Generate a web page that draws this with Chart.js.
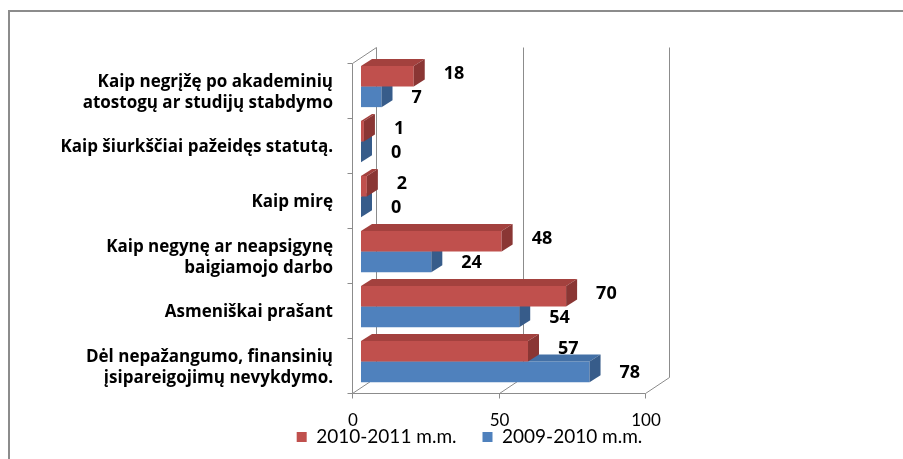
<!DOCTYPE html>
<html><head><meta charset="utf-8">
<script src="https://cdn.jsdelivr.net/npm/chart.js@4/dist/chart.umd.min.js"></script>
<style>
html,body{margin:0;padding:0;background:#fff;}
#wrap{position:relative;width:903px;height:459px;overflow:hidden;background:#fff;}
#frame{position:absolute;left:8px;top:10px;width:1000px;height:1000px;border:2px solid #8c8c8c;box-sizing:border-box;}
#c{position:absolute;left:0;top:0;}
</style></head><body>
<div id="wrap"><div id="frame"></div><canvas id="c" width="903" height="459"></canvas></div>
<script>
const categories = [
  ['Kaip negrįžę po akademinių', 'atostogų ar studijų stabdymo'],
  'Kaip šiurkščiai pažeidęs statutą.',
  'Kaip mirę',
  ['Kaip negynę ar neapsigynę', 'baigiamojo darbo'],
  'Asmeniškai prašant',
  ['Dėl nepažangumo, finansinių', 'įsipareigojimų nevykdymo.']
];
const values2010 = [18, 1, 2, 48, 70, 57];
const values2009 = [7, 0, 0, 24, 54, 78];
const seriesNames = ['2010-2011 m.m.', '2009-2010 m.m.'];
const xTicks = [0, 50, 100];

const frontColors = ['#C0504D', '#4F81BD'];
const topColors = ['#A3413E', '#4370A6'];
const sideColors = ['#8A3634', '#375C8A'];

const BAR_DX = 11, BAR_DY = -7;
const FRONT = {dx: -9, dy: 4};
const BACK = {dx: 15, dy: -12};
const PAD_LEFT = 50;
const PAD_RIGHT = 14;
const PLOT_LEFT = 361;
const PLOT_RIGHT = 654;

const frame3d = {
  id: 'frame3d',
  beforeDatasetsDraw(chart) {
    const {ctx, chartArea: a, scales: {x, y}} = chart;
    ctx.save();
    ctx.strokeStyle = '#8c8c8c';
    ctx.lineWidth = 1;
    const line = (x1, y1, x2, y2) => { ctx.beginPath(); ctx.moveTo(x1, y1); ctx.lineTo(x2, y2); ctx.stroke(); };
    const x0 = Math.round(x.getPixelForValue(xTicks[0])) + 0.5;
    const xN = Math.round(x.getPixelForValue(xTicks[xTicks.length - 1])) + 0.5;
    const bot = Math.round(a.bottom) + 0.5;
    const top = Math.round(a.top) + 0.5;
    xTicks.forEach(v => {
      const px = Math.round(x.getPixelForValue(v)) + 0.5;
      line(px + BACK.dx, top + BACK.dy, px + BACK.dx, bot + BACK.dy);
      line(px + FRONT.dx, bot + FRONT.dy, px + BACK.dx, bot + BACK.dy);
      line(px + FRONT.dx, bot + FRONT.dy, px + FRONT.dx, bot + FRONT.dy + 5);
    });
    line(x0 + FRONT.dx, bot + FRONT.dy, xN + FRONT.dx, bot + FRONT.dy);
    line(x0 + FRONT.dx, top + FRONT.dy, x0 + FRONT.dx, bot + FRONT.dy);
    line(x0 + FRONT.dx, top + FRONT.dy, x0 + BACK.dx, top + BACK.dy);
    for (let k = 0; k <= categories.length; k++) {
      const yy = Math.round(y.getPixelForValue(k - 0.5)) + 0.5 + FRONT.dy;
      line(x0 + FRONT.dx - 5, yy, x0 + FRONT.dx, yy);
    }
    ctx.restore();
  }
};

const bars3d = {
  id: 'bars3d',
  afterDatasetDraw(chart, args) {
    const ctx = chart.ctx;
    const i = args.index;
    ctx.save();
    args.meta.data.forEach(bar => {
      const {x, y, base, height} = bar.getProps(['x', 'y', 'base', 'height'], true);
      const t = y - height / 2, b = y + height / 2;
      ctx.fillStyle = topColors[i];
      ctx.beginPath();
      ctx.moveTo(base, t); ctx.lineTo(x, t); ctx.lineTo(x + BAR_DX, t + BAR_DY); ctx.lineTo(base + BAR_DX, t + BAR_DY);
      ctx.closePath(); ctx.fill();
      ctx.fillStyle = sideColors[i];
      ctx.beginPath();
      ctx.moveTo(x, t); ctx.lineTo(x + BAR_DX, t + BAR_DY); ctx.lineTo(x + BAR_DX, b + BAR_DY); ctx.lineTo(x, b);
      ctx.closePath(); ctx.fill();
    });
    ctx.restore();
  }
};

const valueLabels = {
  id: 'valueLabels',
  afterDatasetsDraw(chart) {
    const ctx = chart.ctx;
    ctx.save();
    ctx.font = 'bold 18px "Open Sans"';
    ctx.fillStyle = '#000';
    ctx.textAlign = 'left';
    ctx.textBaseline = 'middle';
    chart.data.datasets.forEach((ds, i) => {
      chart.getDatasetMeta(i).data.forEach((bar, j) => {
        ctx.fillText(String(ds.data[j]), bar.x + 30, bar.y + (i === 0 ? -2 : 1));
      });
    });
    ctx.restore();
  }
};

new Chart(document.getElementById('c'), {
  type: 'bar',
  data: {
    labels: categories,
    datasets: [
      {label: seriesNames[0], data: values2010, backgroundColor: frontColors[0], borderWidth: 0},
      {label: seriesNames[1], data: values2009, backgroundColor: frontColors[1], borderWidth: 0}
    ]
  },
  options: {
    indexAxis: 'y',
    responsive: false,
    animation: false,
    events: [],
    categoryPercentage: 0.75,
    barPercentage: 1.0,
    layout: {padding: {left: PAD_LEFT, right: PAD_RIGHT, top: 59, bottom: 2.5}},
    plugins: {
      tooltip: {enabled: false},
      legend: {
        position: 'bottom',
        align: 'center',
        title: {display: true, text: '', font: {size: 10, lineHeight: 1}, padding: {top: -34.5, bottom: 0}},
        labels: {
          font: {family: 'Lato', size: 19},
          color: '#000',
          boxWidth: 10,
          boxHeight: 10,
          padding: 26
        }
      }
    },
    scales: {
      x: {
        min: 0, max: 100,
        afterBuildTicks(s) { s.ticks = xTicks.map(v => ({value: v})); },
        grid: {display: false, drawTicks: false},
        border: {display: false},
        ticks: {font: {family: 'Lato', size: 17}, color: '#000', padding: 21, labelOffset: -8},
        afterFit(s) { s.height = 37; }
      },
      y: {
        grid: {display: false, drawTicks: false},
        border: {display: false},
        ticks: {font: {family: 'Open Sans', size: 17, weight: 'bold', lineHeight: 1.25}, color: '#000', padding: 28, labelOffset: 6, autoSkip: false},
        afterFit(s) { s.width = PLOT_LEFT - PAD_LEFT; }
      },
      yr: {
        type: 'linear',
        position: 'right',
        display: true,
        grid: {display: false, drawTicks: false},
        border: {display: false},
        ticks: {display: false},
        afterFit(s) { s.width = 903 - PAD_RIGHT - PLOT_RIGHT; }
      }
    }
  },
  plugins: [frame3d, bars3d, valueLabels]
});
</script>
</body></html>
